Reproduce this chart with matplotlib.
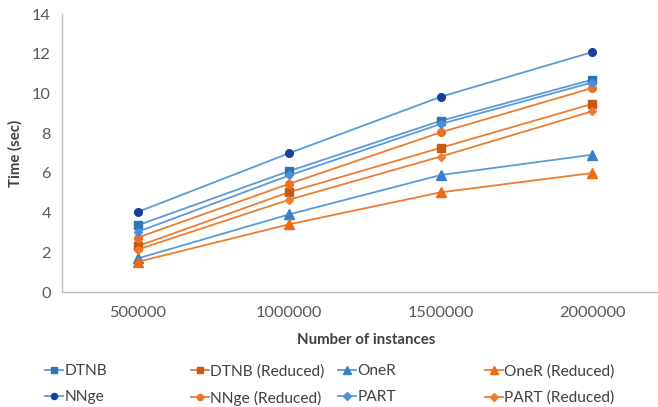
import matplotlib.pyplot as plt
from matplotlib.lines import Line2D

plt.rcParams['font.family'] = ['Lato', 'DejaVu Sans']

instances = ['500000', '1000000', '1500000', '2000000']
dtnb = [3.36, 6.09, 8.62, 10.69]
dtnb_reduced = [2.31, 5.03, 7.26, 9.47]
oner = [1.69, 3.91, 5.89, 6.91]
oner_reduced = [1.52, 3.41, 5.02, 5.99]
nnge = [4.03, 6.99, 9.83, 12.08]
nnge_reduced = [2.74, 5.45, 8.04, 10.27]
part = [3.03, 5.87, 8.46, 10.55]
part_reduced = [2.14, 4.65, 6.82, 9.10]

blue_line = '#5B9BD5'
orange_line = '#ED7D31'

# label, data, marker, marker colour, line colour, marker size
series = [
    ('DTNB', dtnb, 's', '#2E75B6', blue_line, 6),
    ('DTNB (Reduced)', dtnb_reduced, 's', '#C55A11', orange_line, 6),
    ('OneR', oner, '^', '#3A7DCB', blue_line, 6.5),
    ('OneR (Reduced)', oner_reduced, '^', '#F06A10', orange_line, 6.5),
    ('NNge', nnge, 'o', '#173F9C', blue_line, 5.5),
    ('NNge (Reduced)', nnge_reduced, 'o', '#F07020', orange_line, 5.5),
    ('PART', part, 'D', '#4A90D9', blue_line, 4.5),
    ('PART (Reduced)', part_reduced, 'D', '#ED7D31', orange_line, 4.5),
]

W, H = 658, 407
fig = plt.figure(figsize=(W / 100, H / 100), dpi=100)
ax = fig.add_axes([62 / W, 115 / H, 596 / W, 278 / H])

x = list(range(len(instances)))
handles = {}
for label, vals, mk, mc, lc, ms in series:
    ax.plot(x, vals, color=lc, lw=1.3, marker=mk, markersize=ms,
            markerfacecolor=mc, markeredgecolor=mc)
    handles[label] = Line2D([], [], color=lc, lw=1.3, marker=mk,
                            markersize=ms * 0.8, markerfacecolor=mc,
                            markeredgecolor=mc)

ax.set_xlim(-0.5, 3.435)
ax.set_ylim(0, 14)
ax.set_yticks(range(0, 15, 2))
ax.set_xticks(x)
ax.set_xticklabels(instances)
ax.tick_params(length=0, labelsize=11.8, labelcolor='#595959', pad=10)
ax.tick_params(axis='y', pad=8)
for s in ['top', 'right']:
    ax.spines[s].set_visible(False)
for s in ['left', 'bottom']:
    ax.spines[s].set_color('#BFBFBF')
    ax.spines[s].set_linewidth(1.0)

ax.set_ylabel('Time (sec)', fontsize=10.8, fontweight='bold', color='#404040', labelpad=7)
fig.text(366 / W, 1 - 340 / H, 'Number of instances', fontsize=10.8,
         fontweight='bold', color='#404040', ha='center', va='center')

# legend laid out in four columns, filled row by row
columns = [('DTNB', 'NNge'), ('DTNB (Reduced)', 'NNge (Reduced)'),
           ('OneR', 'PART'), ('OneR (Reduced)', 'PART (Reduced)')]
col_x = [45, 191, 338, 485]
for cx, labels in zip(col_x, columns):
    leg = fig.legend([handles[l] for l in labels], labels, loc='upper left',
                     bbox_to_anchor=(cx / W, 1 - 364 / H), frameon=False,
                     borderpad=0, borderaxespad=0, handlelength=1.15,
                     handletextpad=0.1, labelspacing=0.8, fontsize=11.2,
                     labelcolor='#404040')

fig.savefig('out.png', dpi=100)
